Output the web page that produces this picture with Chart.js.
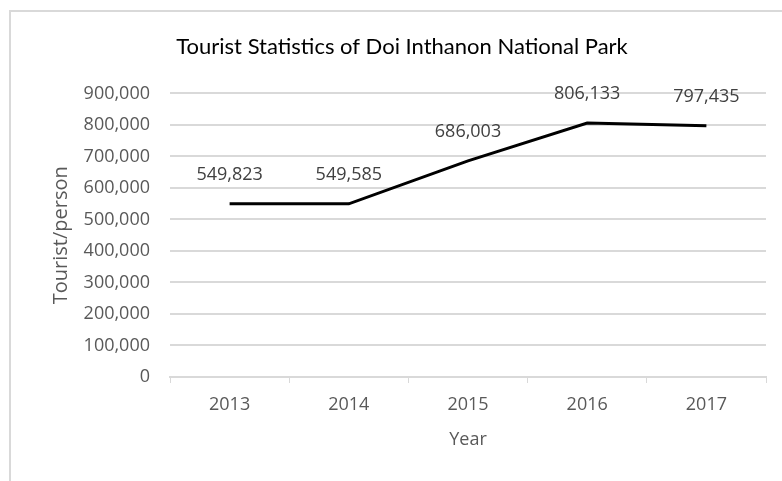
<!DOCTYPE html>
<html>
<head>
<meta charset="utf-8">
<script src="https://cdn.jsdelivr.net/npm/chart.js@4/dist/chart.umd.min.js"></script>
<style>
  html, body { margin: 0; padding: 0; background: #fff; }
  #wrap { position: relative; width: 782px; height: 481px; overflow: hidden; }
  #frame { position: absolute; left: 9px; top: 10px; width: 900px; height: 600px;
           border-left: 2px solid #d9d9d9; border-top: 2px solid #d9d9d9; }
  canvas { position: absolute; left: 0; top: 0; }
</style>
</head>
<body>
<div id="wrap">
  <div id="frame"></div>
  <canvas id="lineChart" width="782" height="481"></canvas>
</div>
<script>
// dati
let years = ['2013', '2014', '2015', '2016', '2017'];
let tourists = [549823, 549585, 686003, 806133, 797435];
let yTicks = [0, 100000, 200000, 300000, 400000, 500000, 600000, 700000, 800000, 900000];

let grigio = '#d9d9d9';
let testo = '#595959';

// etichette dei valori sopra la linea
const ValueLabels = {
  id: 'valueLabels',
  afterDatasetsDraw: (chart) => {
    const { ctx } = chart;
    const meta = chart.getDatasetMeta(0);
    ctx.save();
    ctx.font = '18px "Open Sans"';
    ctx.fillStyle = '#404040';
    ctx.textAlign = 'center';
    ctx.textBaseline = 'middle';
    meta.data.forEach((pt, i) => {
      ctx.fillText(tourists[i].toLocaleString('en-US'), pt.x, pt.y - 29);
    });
    ctx.restore();
  }
};

let ctx = document.getElementById('lineChart').getContext('2d');
let myChart = new Chart(ctx, {
  type: 'line',
  data: {
    labels: years,
    datasets: [{
      data: tourists,
      borderColor: '#000',
      borderWidth: 3,
      pointRadius: 0,
      tension: 0,
      fill: false
    }]
  },
  options: {
    responsive: false,
    animation: false,
    layout: { padding: { left: 38, right: 16, top: 34, bottom: 0 } },
    plugins: {
      legend: { display: false },
      tooltip: { enabled: false },
      title: {
        display: true,
        text: 'Tourist Statistics of Doi Inthanon National Park',
        color: '#000',
        font: { family: 'Lato', size: 22, weight: 'normal' },
        padding: { top: 0, bottom: 33 }
      }
    },
    scales: {
      x: {
        offset: true,
        grid: { drawOnChartArea: false, drawTicks: true, tickLength: 6, color: grigio, offset: true },
        border: { display: true, color: grigio, width: 2 },
        ticks: { color: testo, font: { family: 'Open Sans', size: 18 }, padding: 11 },
        title: {
          display: true, text: 'Year', color: testo,
          font: { family: 'Open Sans', size: 18 },
          padding: { top: 0, bottom: 30 }
        },
        afterFit: (scale) => { scale.height = 104; }
      },
      y: {
        min: 0,
        max: 900000,
        afterBuildTicks: (scale) => { scale.ticks = yTicks.map(v => ({ value: v })); },
        grid: { drawTicks: false, color: grigio, lineWidth: 2 },
        border: { display: false },
        ticks: {
          color: testo,
          font: { family: 'Open Sans', size: 18 },
          padding: 20,
          callback: (v) => v.toLocaleString('en-US')
        },
        title: {
          display: true, text: 'Tourist/person', color: testo,
          font: { family: 'Open Sans', size: 20 },
          padding: { top: 11, bottom: 0 }
        },
        afterFit: (scale) => { scale.width = 132; }
      }
    }
  },
  plugins: [ValueLabels]
});
</script>
</body>
</html>
